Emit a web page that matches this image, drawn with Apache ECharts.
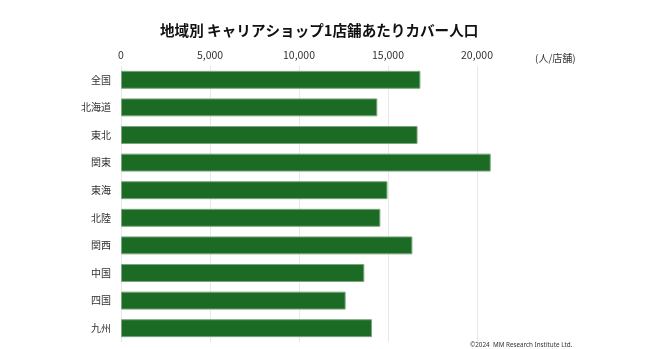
<!DOCTYPE html>
<html>
<head>
<meta charset="utf-8">
<script src="https://cdn.jsdelivr.net/npm/echarts@6/dist/echarts.min.js"></script>
<style>html,body{margin:0;padding:0;background:#fff}#c{width:665px;height:349px}</style>
</head>
<body>
<div id="c"></div>
<script>
const categories = ['全国','北海道','東北','関東','東海','北陸','関西','中国','四国','九州'];
const values = [16820, 14400, 16660, 20770, 14970, 14570, 16370, 13670, 12620, 14100];
const tickValues = [0, 5000, 10000, 15000, 20000];
const unitLabel = '(人/店舗)';
const titleText = '地域別 キャリアショップ1店舗あたりカバー人口';
const creditText = '©2024  MM Research Institute Ltd.';

const chart = echarts.init(document.getElementById('c'));
chart.setOption({
  animation: false,
  title: [
    { text: titleText, left: 155, top: 18,
      textStyle: { fontSize: 14.6, fontWeight: 'bold', color: '#111', fontFamily: 'Noto Sans CJK JP' } },
    { text: unitLabel, left: 530, top: 48,
      textStyle: { fontSize: 10, fontWeight: 'normal', color: '#333', fontFamily: 'Noto Sans CJK JP' } },
    { text: creditText, left: 465, top: 337,
      textStyle: { fontSize: 6.3, fontWeight: 'normal', color: '#333', fontFamily: 'Noto Sans' } }
  ],
  grid: { left: 121, right: 99, top: 66, bottom: 7 },
  xAxis: {
    type: 'value', position: 'top', min: 0, max: 25000, interval: 5000,
    axisLine: { show: false }, axisTick: { show: false },
    axisLabel: {
      margin: 6, fontSize: 10.5, color: '#333', fontFamily: 'Noto Sans CJK JP',
      showMaxLabel: false,
      formatter: v => tickValues.includes(v) ? v.toLocaleString('en-US') : ''
    },
    splitLine: { show: true, showMaxLine: false, lineStyle: { color: '#e8e8e8', width: 1 } }
  },
  yAxis: {
    type: 'category', data: categories, inverse: true,
    axisLine: { show: false }, axisTick: { show: false },
    axisLabel: { margin: 10, fontSize: 10, color: '#333', fontFamily: 'Noto Sans CJK JP' }
  },
  series: [{
    type: 'bar', data: values, barCategoryGap: '35%',
    itemStyle: { color: '#1c6b24', borderColor: '#7aa67e', borderWidth: 1 }
  }]
});
</script>
</body>
</html>
